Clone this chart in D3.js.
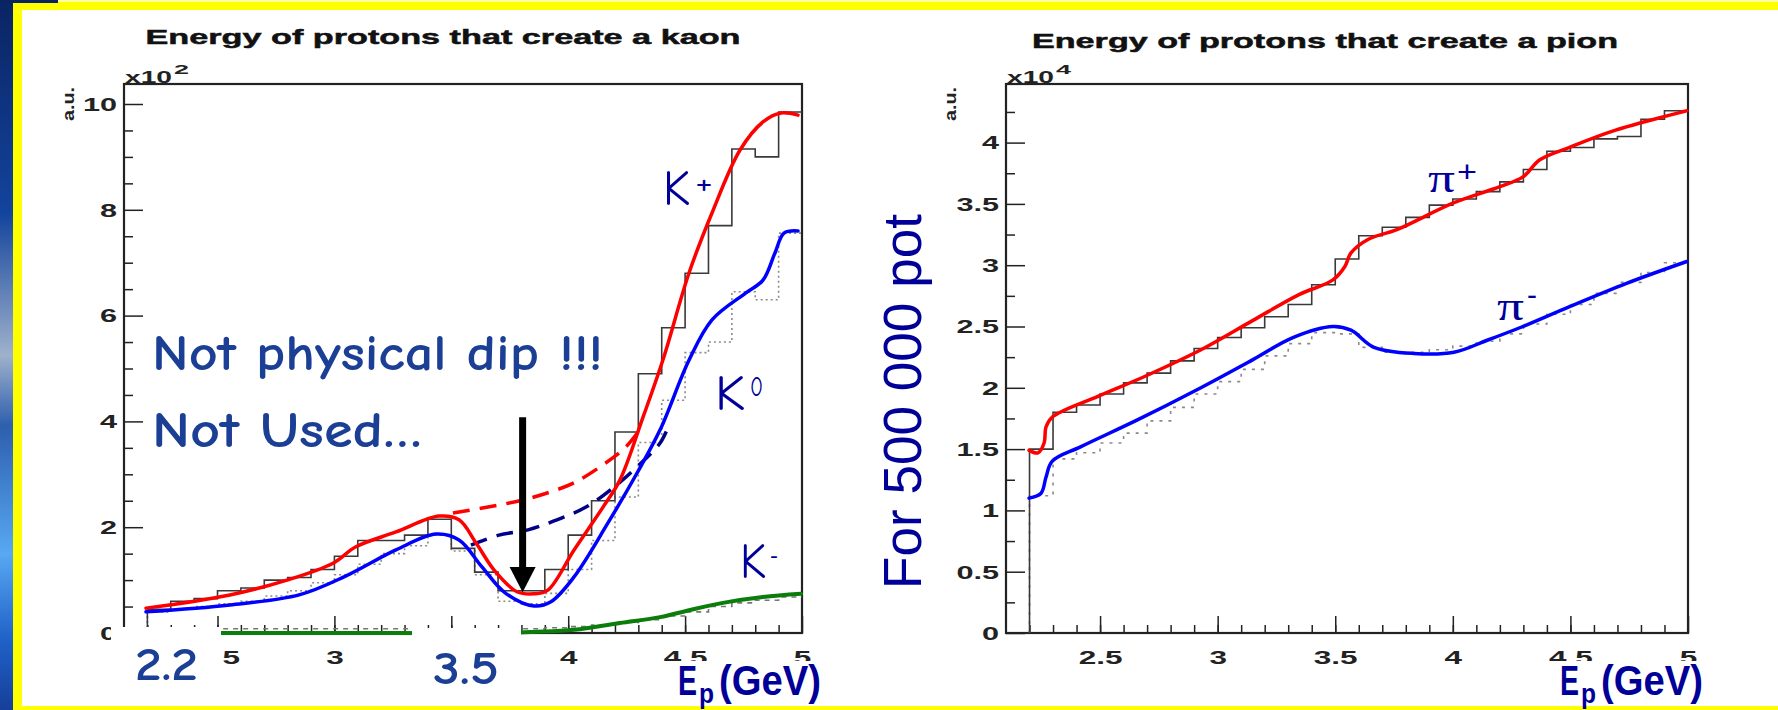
<!DOCTYPE html>
<html>
<head>
<meta charset="utf-8">
<title>Energy of protons that create a kaon / a pion</title>
<script src="https://cdn.jsdelivr.net/npm/d3@7"></script>
<style>
    body { margin: 0; background: #fff; }
    svg { display: block; }
</style>
</head>
<body>
<svg id="slide" width="1778" height="710"></svg>
<script>
// ---- data ----
const energyBins = [2.2, 2.3, 2.4, 2.5, 2.6, 2.7, 2.8, 2.9, 3.0, 3.1, 3.2, 3.3, 3.4, 3.5,
    3.6, 3.7, 3.8, 3.9, 4.0, 4.1, 4.2, 4.3, 4.4, 4.5, 4.6, 4.7, 4.8, 4.9];
const BIN_END = 5.0;
const X_DOMAIN = [2.1, 5.0];

const xTickValues = [2.5, 3, 3.5, 4, 4.5, 5];
const kaonYTicks = [0, 2, 4, 6, 8, 10];
const kaonYMinor = [0.5, 1, 1.5, 2.5, 3, 3.5, 4.5, 5, 5.5, 6.5, 7, 7.5, 8.5, 9, 9.5];
const pionYTicks = [0, 0.5, 1, 1.5, 2, 2.5, 3, 3.5, 4];
const pionYMinor = [0.25, 0.75, 1.25, 1.75, 2.25, 2.75, 3.25, 3.75, 4.25];

// kaon histograms, x10^2
const kPlusHist = [0.45, 0.60, 0.65, 0.80, 0.85, 1.00, 1.05, 1.20, 1.45, 1.75, 1.75, 1.85, 2.15, 1.60,
    1.15, 0.80, 0.80, 1.20, 1.85, 2.50, 3.80, 4.90, 5.77, 6.80, 7.70, 9.15, 9.00, 9.85];
const kZeroHist = [0.40, 0.45, 0.50, 0.55, 0.60, 0.70, 0.80, 0.95, 1.10, 1.30, 1.50, 1.65, 1.85, 1.55,
    1.10, 0.60, 0.55, 0.75, 1.20, 1.75, 2.57, 3.60, 4.40, 5.30, 5.50, 6.45, 6.30, 7.56];
const kMinusHist = [0.08, 0.08, 0.08, 0.08, 0.08, 0.08, 0.08, 0.08, 0.08, 0.08, 0.08, 0.08, 0.08, 0.08,
    0.08, 0.08, 0.08, 0.10, 0.12, 0.15, 0.20, 0.25, 0.32, 0.40, 0.50, 0.57, 0.62, 0.68];

// kaon fits [E, value]
const kPlusFit = [[2.194, 0.47], [2.553, 0.72], [2.797, 1.00], [2.994, 1.32], [3.092, 1.63], [3.263, 1.91],
    [3.447, 2.21], [3.533, 2.14], [3.606, 1.70], [3.683, 1.19], [3.781, 0.78], [3.854, 0.74], [3.913, 0.81],
    [4.025, 1.57], [4.149, 2.38], [4.221, 2.89], [4.320, 4.08], [4.405, 5.16], [4.517, 6.81], [4.615, 7.94],
    [4.735, 9.13], [4.833, 9.66], [4.910, 9.83], [4.983, 9.79]];
const kZeroFit = [[2.194, 0.40], [2.553, 0.53], [2.849, 0.72], [3.041, 1.06], [3.263, 1.57], [3.434, 1.87],
    [3.533, 1.76], [3.631, 1.25], [3.730, 0.76], [3.854, 0.51], [3.926, 0.59], [4.025, 1.06], [4.170, 2.08],
    [4.294, 3.02], [4.393, 3.84], [4.517, 5.16], [4.615, 5.92], [4.760, 6.43], [4.833, 6.67], [4.884, 7.18],
    [4.923, 7.56], [4.983, 7.60]];
const kMinusFit = [[2.2, 0], [3.0, 0], [3.7, 0], [3.85, 0.02], [4.025, 0.06], [4.221, 0.19], [4.393, 0.30],
    [4.517, 0.43], [4.662, 0.57], [4.833, 0.68], [4.996, 0.74]];
const kPlusNoDip = [[3.507, 2.27], [3.657, 2.38], [3.802, 2.51], [3.926, 2.67], [4.025, 2.84], [4.149, 3.18],
    [4.247, 3.52], [4.320, 3.93]];
const kZeroNoDip = [[3.584, 1.66], [3.704, 1.85], [3.828, 1.95], [3.952, 2.14], [4.076, 2.38], [4.196, 2.76],
    [4.294, 3.14], [4.393, 3.59], [4.431, 3.93]];

// pion histograms, x10^4
const piPlusHist = [1.50, 1.80, 1.86, 1.95, 2.04, 2.12, 2.22, 2.32, 2.41, 2.49, 2.58, 2.68, 2.84, 3.05,
    3.24, 3.31, 3.39, 3.49, 3.54, 3.60, 3.68, 3.78, 3.93, 3.96, 4.03, 4.05, 4.19, 4.26];
const piMinusHist = [1.12, 1.42, 1.47, 1.55, 1.63, 1.73, 1.84, 1.95, 2.05, 2.15, 2.26, 2.36, 2.45, 2.44,
    2.33, 2.29, 2.29, 2.31, 2.34, 2.38, 2.44, 2.52, 2.60, 2.68, 2.77, 2.86, 2.94, 3.02];

const piPlusFit = [[2.198, 1.49], [2.236, 1.47], [2.262, 1.55], [2.270, 1.68], [2.296, 1.76], [2.491, 1.93],
    [2.687, 2.09], [2.929, 2.31], [3.150, 2.55], [3.346, 2.76], [3.490, 2.88], [3.541, 2.99], [3.567, 3.10],
    [3.639, 3.21], [3.762, 3.29], [4.005, 3.51], [4.200, 3.64], [4.298, 3.72], [4.370, 3.86], [4.494, 3.96],
    [4.689, 4.10], [4.995, 4.26]];
const piMinusFit = [[2.198, 1.10], [2.249, 1.14], [2.270, 1.27], [2.296, 1.40], [2.419, 1.52], [2.661, 1.74],
    [2.908, 1.98], [3.150, 2.23], [3.320, 2.41], [3.490, 2.50], [3.567, 2.47], [3.665, 2.33], [3.835, 2.28],
    [4.005, 2.29], [4.149, 2.39], [4.298, 2.50], [4.494, 2.66], [4.736, 2.85], [4.995, 3.03]];


const svg = d3.select("#slide");
const AXIS_Y = 633;
const FRAME_TOP = 84;
const ROOT_FONT = "'Liberation Sans', Arial, Helvetica, sans-serif";
const COMIC_FONT = "'Comic Sans MS', 'Comic Neue', 'Open Sans', sans-serif";
const NARROW_FONT = "'Liberation Sans Narrow', 'Arial Narrow', 'Liberation Sans', sans-serif";
const NAVY = "#000099";
const NOTE_BLUE = "#1c3f96";

// slide background: photo strip on the left, yellow border
const defs = svg.append("defs");
const photo = defs.append("linearGradient")
    .attr("id", "photo")
    .attr("x1", 0).attr("y1", 0).attr("x2", 0).attr("y2", 1);
[["0%", "#0a2463"], ["30%", "#13449c"], ["50%", "#9fb1cc"], ["60%", "#2d5fae"], ["78%", "#58a8f2"],
    ["90%", "#1f62c8"], ["100%", "#163f9a"]]
    .forEach(s => photo.append("stop").attr("offset", s[0]).attr("stop-color", s[1]));

svg.append("rect").attr("width", 1778).attr("height", 710).attr("fill", "#fff");
svg.append("rect").attr("x", 0).attr("y", 0).attr("width", 13).attr("height", 710).attr("fill", "url(#photo)");
svg.append("rect").attr("x", 13).attr("y", 0).attr("width", 9).attr("height", 710).attr("fill", "#ffff00");
svg.append("rect").attr("x", 13).attr("y", 0).attr("width", 1765).attr("height", 10).attr("fill", "#ffff00");
svg.append("rect").attr("x", 13).attr("y", 0).attr("width", 1765).attr("height", 2).attr("fill", "#ffff99");
svg.append("rect").attr("x", 0).attr("y", 0).attr("width", 58).attr("height", 3).attr("fill", "#0a2463");
svg.append("rect").attr("x", 13).attr("y", 706).attr("width", 1765).attr("height", 4).attr("fill", "#ffff00");

// descender of the slide title that sits above the picture
svg.append("text")
    .attr("x", 1612).attr("y", -9)
    .attr("font-family", ROOT_FONT).attr("font-weight", "bold").attr("font-size", 40)
    .attr("fill", NAVY)
    .text("g");


function stepPoints(values) {
    const pts = [[energyBins[0], 0]];
    energyBins.forEach((e, i) => pts.push([e, values[i]]));
    pts.push([BIN_END, values[values.length - 1]]);
    return pts;
}

function drawPanel(opts) {
    const x = d3.scaleLinear().domain(X_DOMAIN).range([opts.left, opts.right]);
    const y = d3.scaleLinear().domain([0, opts.yRef]).range([AXIS_Y, opts.yRefPx]);

    const g = svg.append("g");

    // axes, ROOT style: ticks point inwards
    const xMinor = g.append("g").attr("transform", `translate(0, ${AXIS_Y})`)
        .call(d3.axisBottom(x).tickValues(energyBins).tickSize(-8).tickFormat(() => ""));
    const xMajor = g.append("g").attr("transform", `translate(0, ${AXIS_Y})`)
        .call(d3.axisBottom(x).tickValues(xTickValues).tickSize(-17).tickPadding(19)
            .tickFormat(d3.format("~g")));
    const yMinor = g.append("g").attr("transform", `translate(${opts.left}, 0)`)
        .call(d3.axisLeft(y).tickValues(opts.yMinor).tickSize(-9).tickFormat(() => ""));
    const yMajor = g.append("g").attr("transform", `translate(${opts.left}, 0)`)
        .call(d3.axisLeft(y).tickValues(opts.yTicks).tickSize(-19).tickPadding(4)
            .tickFormat(d3.format("~g")));

    [xMinor, xMajor, yMinor, yMajor].forEach(a => {
        a.select(".domain").remove();
        a.attr("color", "#222")
            .attr("font-family", ROOT_FONT)
            .attr("font-weight", "bold")
            .attr("font-size", 17.5);
        a.selectAll("line").attr("stroke-width", 1.5);
    });
    xMajor.selectAll("text").attr("transform", "scale(1.8,1)");
    yMajor.selectAll("text").attr("transform", "scale(1.75,1)").attr("dy", "0.36em");

    // frame
    g.append("rect")
        .attr("x", opts.left)
        .attr("y", FRAME_TOP)
        .attr("width", opts.right - opts.left)
        .attr("height", AXIS_Y - FRAME_TOP)
        .attr("fill", "none")
        .attr("stroke", "#222")
        .attr("stroke-width", 2.2);

    // exponent and unit labels
    g.append("text")
        .attr("x", opts.left + 1).attr("y", 83)
        .attr("font-family", ROOT_FONT).attr("font-size", 16).attr("font-weight", "bold")
        .attr("fill", "#222")
        .attr("textLength", 47).attr("lengthAdjust", "spacingAndGlyphs")
        .text("x10");
    g.append("text")
        .attr("x", opts.left + 50).attr("y", 74)
        .attr("font-family", ROOT_FONT).attr("font-size", 13).attr("font-weight", "bold")
        .attr("fill", "#222")
        .attr("textLength", 15).attr("lengthAdjust", "spacingAndGlyphs")
        .text(opts.exponent);
    g.append("text")
        .attr("transform", `translate(${opts.left - 50}, 104) rotate(-90)`)
        .attr("font-family", ROOT_FONT).attr("font-size", 17).attr("font-weight", "bold")
        .attr("fill", "#222")
        .attr("textLength", 34).attr("lengthAdjust", "spacingAndGlyphs")
        .attr("text-anchor", "middle")
        .text("a.u.");

    // title
    g.append("text")
        .attr("x", opts.titleX).attr("y", opts.titleY)
        .attr("font-family", ROOT_FONT).attr("font-size", 21).attr("font-weight", "bold")
        .attr("fill", "#111").attr("stroke", "#111").attr("stroke-width", 0.5)
        .attr("text-anchor", "middle")
        .attr("textLength", opts.titleWidth).attr("lengthAdjust", "spacingAndGlyphs")
        .text(opts.title);

    return { x, y, g };
}

function drawHist(p, values, stroke, dash, width) {
    const step = d3.line()
        .x(d => p.x(d[0]))
        .y(d => p.y(d[1]))
        .curve(d3.curveStepAfter);
    p.g.append("path")
        .datum(stepPoints(values))
        .attr("fill", "none")
        .attr("stroke", stroke)
        .attr("stroke-width", width)
        .attr("stroke-dasharray", dash)
        .attr("d", step);
}

function drawFit(p, points, stroke, width, dash) {
    const smooth = d3.line()
        .x(d => p.x(d[0]))
        .y(d => p.y(d[1]))
        .curve(d3.curveCatmullRom.alpha(0.5));
    p.g.append("path")
        .datum(points)
        .attr("fill", "none")
        .attr("stroke", stroke)
        .attr("stroke-width", width)
        .attr("stroke-linecap", dash ? "butt" : "round")
        .attr("stroke-dasharray", dash)
        .attr("d", smooth);
}

function note(txt, x, y, size, fill, family, length, weight) {
    const t = svg.append("text")
        .attr("x", x).attr("y", y)
        .attr("font-family", family)
        .attr("font-size", size)
        .attr("font-weight", weight || "normal")
        .attr("fill", fill)
        .text(txt);
    if (length) t.attr("textLength", length).attr("lengthAdjust", "spacingAndGlyphs");
    return t;
}

function energyLabel(left) {
    svg.append("rect")
        .attr("x", left - 6).attr("y", 661)
        .attr("width", 156).attr("height", 45)
        .attr("fill", "#fff");
    note("E", left, 695, 42, NAVY, NARROW_FONT, 19, "bold");
    note("p", left + 21, 703, 28, NAVY, NARROW_FONT, 15, "bold");
    note("(GeV)", left + 41, 695, 42, NAVY, NARROW_FONT, 102, "bold");
}


// ---- kaon panel ----
const kaon = drawPanel({
    left: 124, right: 802,
    yRef: 10, yRefPx: 104,
    yTicks: kaonYTicks, yMinor: kaonYMinor,
    exponent: "2",
    title: "Energy of protons that create a kaon",
    titleX: 443, titleY: 44, titleWidth: 595
});

drawHist(kaon, kZeroHist, "#8a8a8a", "2,3", 1.6);
drawHist(kaon, kMinusHist, "#777", "5,5", 1.6);
drawHist(kaon, kPlusHist, "#3a3a3a", null, 1.6);

drawFit(kaon, kPlusNoDip, "#ff0000", 3.5, "17,10");
drawFit(kaon, kZeroNoDip, "#000088", 3.5, "17,10");
drawFit(kaon, kMinusFit, "#0a7d0a", 4);
drawFit(kaon, kZeroFit, "#0000ff", 3.5);
drawFit(kaon, kPlusFit, "#ff0000", 3.5);

// white boxes with the hand-written energies
svg.append("rect").attr("x", 111).attr("y", 627).attr("width", 110).attr("height", 79).attr("fill", "#fff");
svg.append("rect").attr("x", 412).attr("y", 628).attr("width", 109).attr("height", 78).attr("fill", "#fff");
note("2.2", 135, 680, 46, NOTE_BLUE, COMIC_FONT, 63, 600);
note("3.5", 433, 684, 46, NOTE_BLUE, COMIC_FONT, 66, 600);

// arrow on the dip
const arrowX = kaon.x(3.805);
svg.append("line")
    .attr("x1", arrowX).attr("x2", arrowX)
    .attr("y1", kaon.y(4.08)).attr("y2", kaon.y(1.2))
    .attr("stroke", "#000").attr("stroke-width", 7);
svg.append("path")
    .attr("d", `M${arrowX - 13},${kaon.y(1.25)} L${arrowX + 13},${kaon.y(1.25)} L${arrowX},${kaon.y(0.77)} Z`)
    .attr("fill", "#000");

note("Not physical dip !!!", 152, 370, 50, NOTE_BLUE, COMIC_FONT, 451, 600);
note("Not Used\u2026", 152, 447, 50, NOTE_BLUE, COMIC_FONT, 270, 600);

note("K", 663, 205, 50, NAVY, COMIC_FONT, 27);
note("+", 695, 194, 34, NAVY, COMIC_FONT, 18);
note("K", 715, 410, 50, NAVY, COMIC_FONT, 30);
note("0", 750, 396, 28, NAVY, COMIC_FONT, 13);
note("K", 740, 578, 50, NAVY, COMIC_FONT, 26);
note("-", 770, 565, 30, NAVY, COMIC_FONT, 8);

energyLabel(678);


// ---- pion panel ----
const pion = drawPanel({
    left: 1006, right: 1688,
    yRef: 4, yRefPx: 142.6,
    yTicks: pionYTicks, yMinor: pionYMinor,
    exponent: "4",
    title: "Energy of protons that create a pion",
    titleX: 1325, titleY: 48, titleWidth: 586
});

drawHist(pion, piMinusHist, "#8a8a8a", "3,6", 1.6);
drawHist(pion, piPlusHist, "#3a3a3a", null, 1.6);
drawFit(pion, piMinusFit, "#0000ff", 3.5);
drawFit(pion, piPlusFit, "#ff0000", 3.5);

note("\u03c0", 1428, 192, 42, NAVY, "'Liberation Serif', 'DejaVu Serif', serif", 27);
note("+", 1457, 182, 30, NAVY, "'Liberation Sans', sans-serif", 20);
note("\u03c0", 1497, 320, 42, NAVY, "'Liberation Serif', 'DejaVu Serif', serif", 27);
note("-", 1527, 305, 30, NAVY, "'Liberation Sans', sans-serif", 10);

energyLabel(1560);

// normalisation note between the panels
svg.append("text")
    .attr("transform", "translate(921, 589) rotate(-90)")
    .attr("font-family", ROOT_FONT)
    .attr("font-size", 54)
    .attr("fill", NAVY)
    .attr("textLength", 375).attr("lengthAdjust", "spacingAndGlyphs")
    .text("For 500 000 pot");
</script>
</body>
</html>
